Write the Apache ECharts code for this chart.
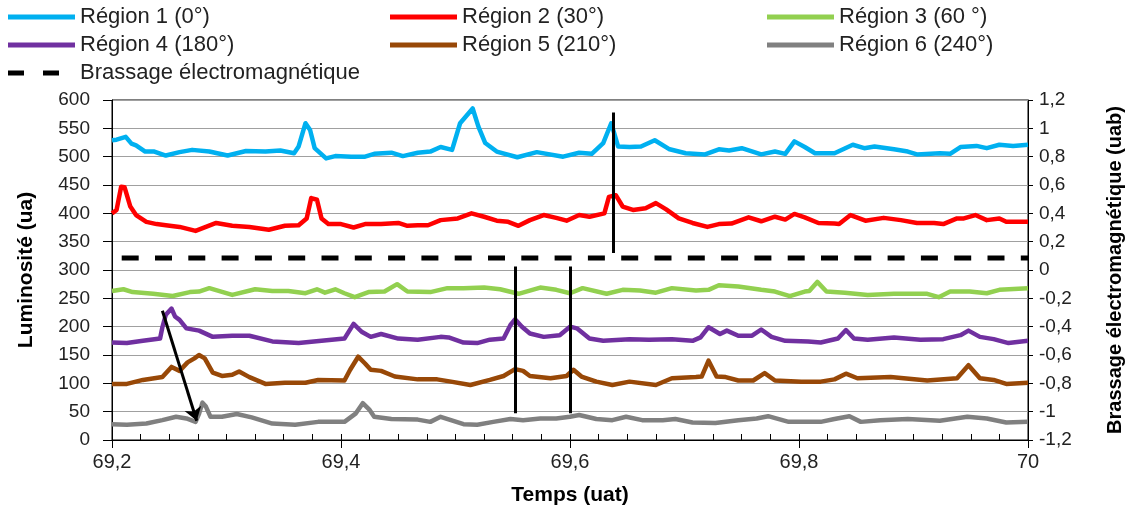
<!DOCTYPE html>
<html>
<head>
<meta charset="utf-8">
<script src="https://cdn.jsdelivr.net/npm/echarts@6/dist/echarts.min.js"></script>
<style>
html,body{margin:0;padding:0;background:#fff;}
#chart{width:1133px;height:511px;}
</style>
</head>
<body>
<div id="chart"></div>
<script>
// ---- Data (time in uat, luminosity in ua) ----
const seriesNames = ['Région 1 (0°)', 'Région 2 (30°)', 'Région 3 (60 °)', 'Région 4 (180°)', 'Région 5 (210°)', 'Région 6 (240°)'];
const brassageName = 'Brassage électromagnétique';

const region1 = [[69.200,529],[69.204,530],[69.212,535],[69.217,523],[69.221,520],[69.229,509],[69.237,509],[69.247,502],[69.259,508],[69.270,512],[69.285,509],[69.301,502],[69.317,510],[69.334,509],[69.347,511],[69.359,506],[69.363,518],[69.369,559],[69.373,547],[69.377,515],[69.387,497],[69.395,501],[69.409,500],[69.421,500],[69.429,505],[69.444,507],[69.454,501],[69.467,507],[69.478,509],[69.487,517],[69.497,512],[69.504,559],[69.515,585],[69.520,553],[69.526,524],[69.536,509],[69.554,499],[69.571,508],[69.594,500],[69.608,507],[69.619,505],[69.629,524],[69.636,559],[69.642,518],[69.652,517],[69.662,518],[69.674,529],[69.687,513],[69.701,506],[69.718,504],[69.730,513],[69.739,511],[69.750,515],[69.767,504],[69.779,509],[69.788,505],[69.796,527],[69.805,517],[69.814,506],[69.831,506],[69.847,521],[69.857,515],[69.866,518],[69.883,513],[69.895,509],[69.903,504],[69.923,506],[69.932,505],[69.941,517],[69.955,519],[69.964,515],[69.975,521],[69.987,519],[70.000,521]];

const region2 = [[69.200,400],[69.204,406],[69.208,447],[69.211,446],[69.216,412],[69.221,397],[69.230,385],[69.239,381],[69.247,379],[69.259,376],[69.273,369],[69.282,376],[69.291,383],[69.305,378],[69.320,376],[69.337,371],[69.351,378],[69.363,379],[69.370,391],[69.374,427],[69.379,424],[69.383,391],[69.389,381],[69.400,381],[69.411,375],[69.421,381],[69.435,381],[69.450,383],[69.458,378],[69.467,379],[69.476,379],[69.487,388],[69.502,391],[69.514,400],[69.525,394],[69.536,387],[69.546,385],[69.555,378],[69.565,388],[69.577,397],[69.588,392],[69.597,387],[69.608,397],[69.617,394],[69.630,400],[69.634,429],[69.640,432],[69.646,412],[69.655,406],[69.666,409],[69.675,418],[69.684,407],[69.695,391],[69.707,383],[69.720,376],[69.730,381],[69.741,382],[69.756,393],[69.767,386],[69.779,394],[69.788,389],[69.796,399],[69.805,393],[69.817,383],[69.831,382],[69.835,381],[69.845,397],[69.858,387],[69.874,392],[69.889,388],[69.903,383],[69.918,383],[69.926,381],[69.938,391],[69.944,391],[69.954,397],[69.964,388],[69.975,391],[69.981,385],[70.000,385]];

const region3 = [[69.200,263],[69.210,266],[69.218,261],[69.236,258],[69.253,254],[69.268,261],[69.276,262],[69.285,268],[69.305,256],[69.325,266],[69.340,263],[69.354,263],[69.369,259],[69.379,266],[69.386,260],[69.395,266],[69.403,259],[69.412,252],[69.424,261],[69.438,262],[69.449,275],[69.458,262],[69.478,261],[69.493,268],[69.507,268],[69.525,269],[69.539,266],[69.555,258],[69.574,269],[69.588,265],[69.600,259],[69.611,268],[69.632,258],[69.646,265],[69.661,264],[69.675,260],[69.689,268],[69.710,264],[69.721,265],[69.730,273],[69.747,271],[69.767,265],[69.779,262],[69.792,254],[69.805,262],[69.809,263],[69.816,279],[69.824,262],[69.840,260],[69.860,256],[69.883,258],[69.912,258],[69.922,252],[69.932,262],[69.949,262],[69.964,259],[69.975,265],[70.000,268]];

const region4 = [[69.200,172],[69.213,171],[69.227,175],[69.242,179],[69.244,199],[69.247,221],[69.252,232],[69.255,218],[69.259,212],[69.265,197],[69.276,193],[69.288,182],[69.305,184],[69.320,184],[69.340,174],[69.363,171],[69.383,175],[69.403,179],[69.411,205],[69.418,191],[69.426,182],[69.435,187],[69.450,179],[69.467,177],[69.487,182],[69.494,181],[69.507,172],[69.519,171],[69.530,177],[69.542,179],[69.548,203],[69.552,213],[69.558,200],[69.565,188],[69.577,182],[69.591,185],[69.600,200],[69.606,197],[69.617,179],[69.629,175],[69.652,178],[69.669,177],[69.689,178],[69.707,175],[69.714,181],[69.721,199],[69.731,187],[69.737,193],[69.747,184],[69.759,184],[69.767,195],[69.776,182],[69.788,175],[69.808,174],[69.819,172],[69.834,179],[69.841,194],[69.848,179],[69.860,177],[69.883,181],[69.906,177],[69.926,178],[69.941,185],[69.948,193],[69.958,182],[69.970,178],[69.983,171],[70.000,175]];

const region5 = [[69.200,99],[69.213,99],[69.227,106],[69.244,111],[69.252,129],[69.259,122],[69.266,137],[69.272,144],[69.276,150],[69.281,144],[69.288,119],[69.296,113],[69.305,115],[69.311,121],[69.320,111],[69.334,99],[69.351,101],[69.369,101],[69.380,106],[69.403,105],[69.408,124],[69.415,147],[69.421,135],[69.426,124],[69.435,122],[69.447,112],[69.467,107],[69.484,107],[69.496,103],[69.513,97],[69.530,106],[69.542,113],[69.552,125],[69.559,122],[69.565,113],[69.583,109],[69.597,113],[69.603,124],[69.610,112],[69.623,103],[69.637,97],[69.652,103],[69.675,97],[69.689,109],[69.710,111],[69.715,112],[69.721,140],[69.728,112],[69.736,111],[69.747,105],[69.760,105],[69.770,118],[69.779,105],[69.802,103],[69.819,103],[69.831,107],[69.841,117],[69.851,109],[69.880,111],[69.912,105],[69.938,109],[69.948,132],[69.958,109],[69.970,106],[69.981,99],[70.000,101]];

const region6 = [[69.200,28],[69.213,27],[69.230,29],[69.244,35],[69.256,41],[69.265,38],[69.273,32],[69.276,46],[69.279,66],[69.282,59],[69.286,41],[69.296,41],[69.309,46],[69.322,40],[69.340,29],[69.360,27],[69.380,32],[69.403,32],[69.413,47],[69.419,65],[69.425,53],[69.429,41],[69.444,37],[69.467,36],[69.478,32],[69.487,41],[69.496,35],[69.507,28],[69.519,27],[69.533,32],[69.548,37],[69.559,35],[69.574,38],[69.588,38],[69.600,41],[69.608,44],[69.623,37],[69.637,35],[69.649,41],[69.663,35],[69.681,35],[69.692,37],[69.707,31],[69.727,30],[69.747,35],[69.763,38],[69.773,42],[69.791,32],[69.805,32],[69.819,32],[69.831,37],[69.844,42],[69.854,32],[69.871,35],[69.895,37],[69.923,34],[69.947,41],[69.964,38],[69.981,31],[70.000,32]];

// Electromagnetic stirring (right axis, uab)
const brassage = [[69.200,0.085],[69.400,0.085],[69.600,0.085],[69.800,0.085],[70.000,0.085]];

// Annotation marks (time, luminosity)
const verticalMarks = [
  [[69.638,578],[69.638,330]],
  [[69.552,306],[69.552,47]],
  [[69.600,306],[69.600,47]]
];
const arrowMark = [[69.244,228],[69.274,34]];

// Axes
const xTicks = {min: 69.2, max: 70, step: 0.2, minorStep: 0.025};
const yLeft = {min: 0, max: 600, step: 50};
const yRight = {min: -1.2, max: 1.2, step: 0.2};

const colors = ['#00b0f0', '#ff0000', '#92d050', '#7030a0', '#984807', '#808080'];
const regionData = [region1, region2, region3, region4, region5, region6];

const fmt = v => String(+(+v).toFixed(2)).replace('.', ',');
const FONT = 'Liberation Sans, Arial, sans-serif';

const chart = echarts.init(document.getElementById('chart'), null, {renderer: 'canvas'});

const series = regionData.map((d, i) => ({
  name: seriesNames[i],
  type: 'line',
  data: d,
  xAxisIndex: 0,
  yAxisIndex: 0,
  showSymbol: false,
  symbol: 'none',
  smooth: false,
  lineStyle: {color: colors[i], width: 4.5, join: 'round'},
  itemStyle: {color: colors[i]},
  z: 3
}));
series.push({
  name: brassageName,
  type: 'line',
  data: brassage,
  xAxisIndex: 0,
  yAxisIndex: 1,
  showSymbol: false,
  symbol: 'none',
  lineStyle: {color: '#000', width: 5, type: [17, 16.3], dashOffset: 23.6, cap: 'butt'},
  itemStyle: {color: '#000'},
  z: 3
});
series.push({
  type: 'lines',
  coordinateSystem: 'cartesian2d',
  xAxisIndex: 0, yAxisIndex: 0,
  polyline: false,
  symbol: 'none',
  lineStyle: {color: '#000', width: 3, opacity: 1, curveness: 0},
  data: verticalMarks.map(c => ({coords: c})),
  z: 5
});
series.push({
  type: 'lines',
  coordinateSystem: 'cartesian2d',
  xAxisIndex: 0, yAxisIndex: 0,
  polyline: false,
  symbol: ['none', 'arrow'],
  symbolSize: 13,
  lineStyle: {color: '#000', width: 3, opacity: 1, curveness: 0},
  data: [{coords: arrowMark}],
  z: 5
});

// legend layout: 3 columns x 3 rows
const legendCols = [8, 390, 767];
const legendRows = [17, 45, 73];
const legendOrder = [seriesNames[0], seriesNames[1], seriesNames[2], seriesNames[3], seriesNames[4], seriesNames[5], brassageName];
const legends = legendOrder.map((name, k) => {
  const col = k % 3, row = Math.floor(k / 3);
  const dashed = name === brassageName;
  return {
    data: [name],
    left: legendCols[col],
    top: legendRows[row] - 12,
    icon: dashed ? 'path://M0 0H16V5H0Z M35 0H51V5H35Z' : 'rect',
    itemWidth: dashed ? 51 : 67,
    itemHeight: 5,
    itemGap: 0,
    padding: 0,
    selectedMode: false,
    textStyle: {fontFamily: FONT, fontSize: 22, color: '#222', lineHeight: 24, padding: [0, 0, 0, dashed ? 16 : 0]}
  };
});

chart.setOption({
  animation: false,
  backgroundColor: '#fff',
  legend: legends,
  grid: {left: 112, right: 98, top: 100, bottom: 71, show: true, borderColor: '#000', borderWidth: 1, containLabel: false},
  xAxis: [{
    type: 'value',
    min: xTicks.min, max: xTicks.max, interval: xTicks.step,
    position: 'bottom',
    name: 'Temps (uat)', nameLocation: 'middle', nameGap: 45,
    nameTextStyle: {fontFamily: FONT, fontSize: 21, fontWeight: 'bold', color: '#000'},
    axisLine: {show: true, onZero: false, lineStyle: {color: '#000', width: 1}},
    axisTick: {show: true, inside: false, length: 8, lineStyle: {color: '#000', width: 1}},
    axisLabel: {show: true, margin: 12, fontFamily: FONT, fontSize: 20, color: '#222', formatter: fmt},
    splitLine: {show: false}
  }, {
    type: 'value',
    min: xTicks.min, max: xTicks.max, interval: xTicks.minorStep,
    position: 'bottom',
    axisLine: {show: false},
    axisTick: {show: true, inside: true, length: 6, lineStyle: {color: '#000', width: 1}},
    axisLabel: {show: false},
    splitLine: {show: false}
  }],
  yAxis: [{
    type: 'value',
    min: yLeft.min, max: yLeft.max, interval: yLeft.step,
    position: 'left',
    name: 'Luminosité (ua)', nameLocation: 'middle', nameGap: 75,
    nameTextStyle: {fontFamily: FONT, fontSize: 21, fontWeight: 'bold', color: '#000'},
    axisLine: {show: true, lineStyle: {color: '#000', width: 1}},
    axisTick: {show: true, inside: false, length: 9, lineStyle: {color: '#000', width: 1}},
    axisLabel: {margin: 22, fontFamily: FONT, fontSize: 19, color: '#222', formatter: fmt},
    splitLine: {show: true, lineStyle: {color: '#a0a0a0', width: 1}}
  }, {
    type: 'value',
    min: yRight.min, max: yRight.max, interval: yRight.step,
    position: 'right',
    name: 'Brassage électromagnétique (uab)', nameLocation: 'middle', nameGap: 77,
    nameTextStyle: {fontFamily: FONT, fontSize: 20, fontWeight: 'bold', color: '#000'},
    axisLine: {show: true, lineStyle: {color: '#000', width: 1}},
    axisTick: {show: true, inside: false, length: 5, lineStyle: {color: '#000', width: 1}},
    axisLabel: {margin: 11, fontFamily: FONT, fontSize: 19, color: '#222', formatter: fmt},
    splitLine: {show: false}
  }],
  series: series
});
</script>
</body>
</html>
